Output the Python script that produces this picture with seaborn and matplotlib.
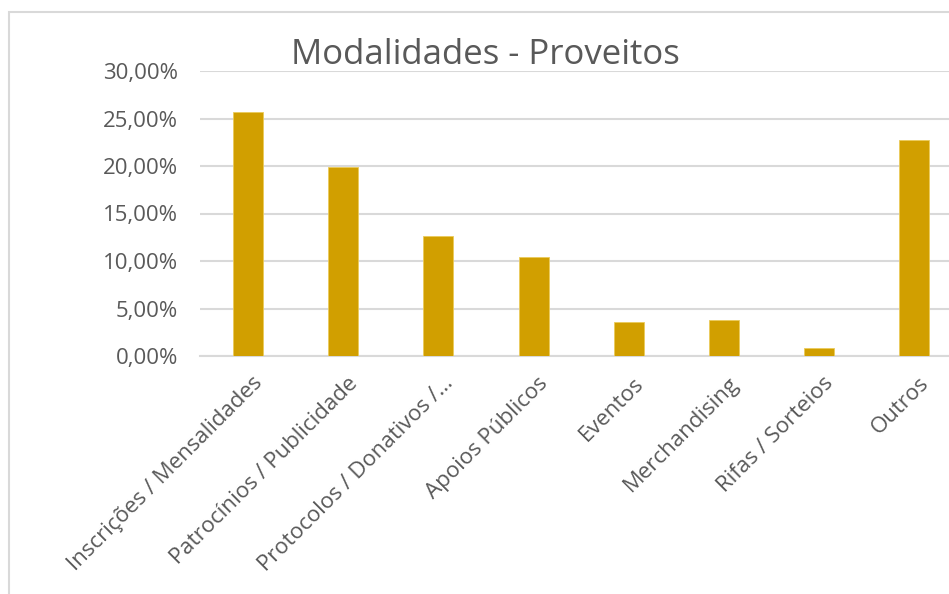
import numpy as np
import pandas as pd
import matplotlib
matplotlib.use('Agg')
import matplotlib.pyplot as plt
import matplotlib.ticker as mtick
import matplotlib.transforms as mtrans
from matplotlib.patches import Rectangle
import seaborn as sns

categorias = ['Inscrições / Mensalidades', 'Patrocínios / Publicidade',
              'Protocolos / Donativos /…', 'Apoios Públicos', 'Eventos',
              'Merchandising', 'Rifas / Sorteios', 'Outros']
percentagens = [0.2565, 0.1990, 0.1263, 0.1039, 0.0355, 0.0379, 0.0081, 0.2277]
y_ticks = [0.0, 0.05, 0.10, 0.15, 0.20, 0.25, 0.30]

sns.set_theme(style='white')
plt.rcParams['font.family'] = ['Open Sans', 'DejaVu Sans']

df = pd.DataFrame({'Modalidade': categorias, 'Valor': percentagens})

fig = plt.figure(figsize=(9.49, 5.94), dpi=100)
# chart area, slightly cut off on the right like the reference
ax = fig.add_axes([200.4 / 949, 1 - 356 / 594, (949 - 200.4) / 949, 285 / 594])

sns.barplot(data=df, x='Modalidade', y='Valor', color='#D19F00', width=0.315,
            edgecolor='#EBCB5A', linewidth=0.6, saturation=1, ax=ax, zorder=3)

ax.set_ylim(0, 0.30)
ax.set_xlim(-0.5, 748.6 / 95.2 - 0.5)
ax.set_yticks(y_ticks)
ax.yaxis.set_major_formatter(mtick.FuncFormatter(lambda v, p: f'{v * 100:.2f}%'.replace('.', ',')))
ax.grid(axis='y', color='#D9D9D9', linewidth=1.5, zorder=0)
sns.despine(ax=ax, left=True, right=True, top=True)
ax.spines['bottom'].set_color('#D9D9D9')
ax.spines['bottom'].set_linewidth(1.5)
ax.tick_params(axis='both', length=0, labelsize=16, labelcolor='#595959')
ax.tick_params(axis='y', pad=16)
ax.tick_params(axis='x', pad=12)
ax.set_xlabel('')
ax.set_ylabel('')
shift = mtrans.ScaledTranslation(4 / 100, 0, fig.dpi_scale_trans)
for lbl in ax.get_xticklabels():
    lbl.set_rotation(45)
    lbl.set_ha('right')
    lbl.set_va('top')
    lbl.set_rotation_mode('anchor')
    lbl.set_transform(lbl.get_transform() + shift)

fig.text(485 / 949, 1 - 55 / 594, 'Modalidades - Proveitos', ha='center', va='center',
         fontsize=25, color='#595959')

# outer chart border
fig.patches.append(Rectangle((9 / 949, -0.1), 1.2, 1 - 12 / 594 + 0.1, transform=fig.transFigure,
                             fill=False, edgecolor='#D9D9D9', linewidth=1.5))

fig.savefig('out.png', dpi=100)
